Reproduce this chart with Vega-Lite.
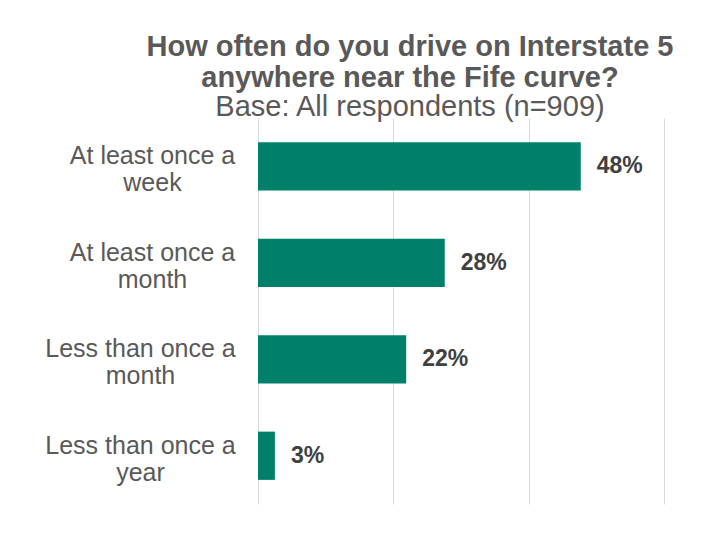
{
  "$schema": "https://vega.github.io/schema/vega-lite/v6.json",
  "autosize": {"type": "none"},
  "padding": {"left": 258, "top": 118, "right": 40, "bottom": 32},
  "width": 406,
  "height": 386,
  "background": "white",
  "title": {
    "text": ["How often do you drive on Interstate 5", "anywhere near the Fife curve?"],
    "subtitle": "Base: All respondents (n=909)",
    "anchor": "middle",
    "frame": "group",
    "dx": -51,
    "font": "Liberation Sans",
    "fontSize": 29,
    "fontWeight": "bold",
    "color": "#595959",
    "lineHeight": 31,
    "subtitleFont": "Liberation Sans",
    "subtitleFontSize": 29,
    "subtitleColor": "#595959",
    "subtitleLineHeight": 30,
    "subtitlePadding": 0,
    "offset": -4
  },
  "data": {
    "values": [
      {"category": "At least once a week", "pct": 47.7, "label": "48%"},
      {"category": "At least once a month", "pct": 27.6, "label": "28%"},
      {"category": "Less than once a month", "pct": 21.9, "label": "22%"},
      {"category": "Less than once a year", "pct": 2.5, "label": "3%"}
    ]
  },
  "encoding": {
    "y": {
      "field": "category",
      "type": "nominal",
      "sort": null,
      "scale": {"paddingInner": 0.5, "paddingOuter": 0.25},
      "axis": {
        "title": null,
        "domain": false,
        "ticks": false,
        "labelExpr": "[slice(datum.label, 0, lastindexof(datum.label, ' ')), slice(datum.label, lastindexof(datum.label, ' ') + 1)]",
        "labelFont": "Liberation Sans",
        "labelFontSize": 25,
        "labelColor": "#595959",
        "labelLineHeight": 27,
        "labelAlign": "center",
        "labelBaseline": "middle",
        "labelOffset": -10,
        "labelLimit": 300,
        "labelPadding": {"condition": {"test": "indexof(datum.value, 'Less') == 0", "value": 118}, "value": 106}
      }
    }
  },
  "layer": [
    {
      "mark": {"type": "bar", "color": "#00806A"},
      "encoding": {
        "x": {
          "field": "pct",
          "type": "quantitative",
          "scale": {"domain": [0, 60], "nice": false},
          "axis": {
            "title": null,
            "values": [0, 20, 40, 60],
            "labels": false,
            "ticks": false,
            "domain": false,
            "grid": true,
            "gridColor": "#d9d9d9",
            "gridWidth": 1
          }
        }
      }
    },
    {
      "mark": {"type": "text", "align": "left", "baseline": "middle", "dx": 16, "font": "Liberation Sans", "fontSize": 23, "fontWeight": "bold", "color": "#404040"},
      "encoding": {
        "x": {"field": "pct", "type": "quantitative"},
        "text": {"field": "label"}
      }
    }
  ],
  "config": {"view": {"stroke": null}}
}
